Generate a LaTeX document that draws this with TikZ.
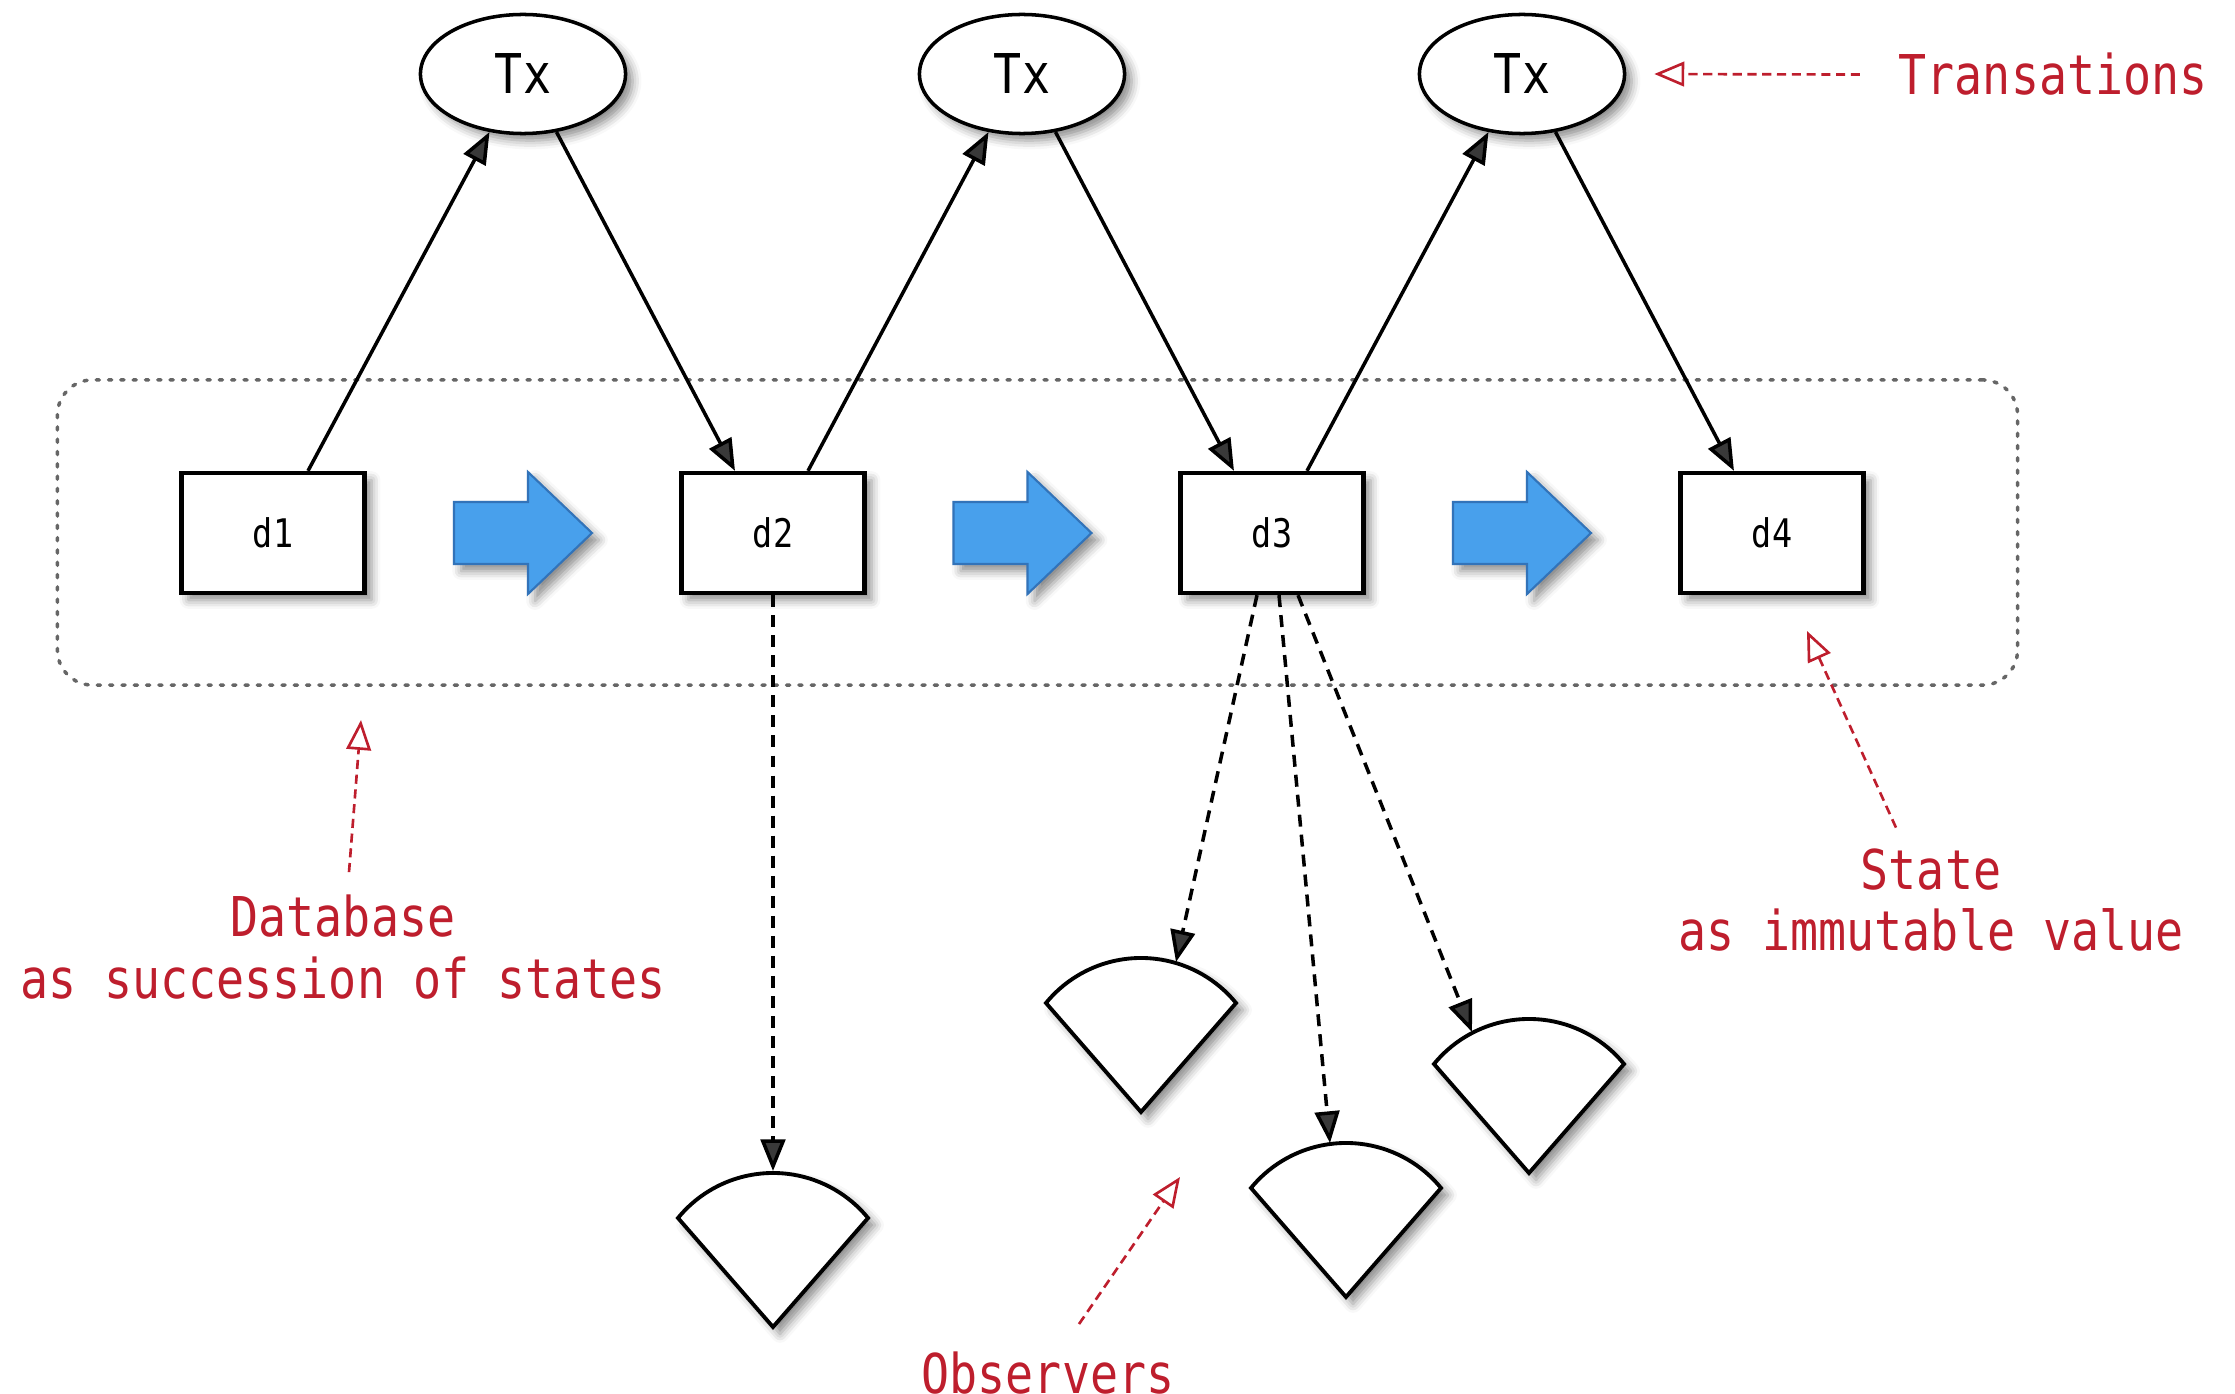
\documentclass[tikz,border=0pt]{standalone}
\usepackage{fontspec}
\usepackage{tikz}
\usetikzlibrary{arrows.meta,calc,shapes.geometric,shadows.blur}
\newfontfamily\diagfont[FakeStretch=0.85]{DejaVu Sans Mono}
\definecolor{notered}{RGB}{190,30,45}
\definecolor{stepblue}{RGB}{72,160,236}
\definecolor{stepedge}{RGB}{50,115,185}

\begin{document}
\begin{tikzpicture}[x=0.01cm,y=-0.01cm,>={Triangle[length=9pt,width=7pt]},
soft/.style={blur shadow={shadow xshift=2pt,shadow yshift=-2pt,shadow blur radius=2.5pt,shadow opacity=45}},
txnode/.style={ellipse,draw,line width=1pt,fill=white,soft,minimum width=2.05cm,
  minimum height=1.19cm,inner sep=0pt,font=\diagfont\fontsize{15.6}{18}\selectfont},
statebox/.style={rectangle,draw,line width=1.2pt,fill=white,soft,minimum width=1.83cm,
  minimum height=1.2cm,inner sep=0pt,font=\diagfont\fontsize{11.2}{13}\selectfont},
stateframe/.style={draw=black!60,line width=1pt,dash pattern=on 0.9pt off 2.6pt,
  line cap=round,rounded corners=0.35cm,minimum width=19.59cm,minimum height=3.05cm},
flow/.style={line width=1pt},
watch/.style={line width=1pt,dash pattern=on 3.4pt off 2.3pt},
observer/.style={draw,line width=1.1pt,fill=white,soft,line join=miter},
stepnext/.style={draw=stepedge,fill=stepblue,line width=0.6pt,soft,line join=miter},
note/.style={text=notered,inner sep=0pt,align=center,
  font=\diagfont\fontsize{15.6}{17.6}\selectfont},
hint/.style={draw=notered,line width=0.75pt,dash pattern=on 2.6pt off 1.6pt,
  -{Triangle[open,length=8.5pt,width=7pt]}}]
\useasboundingbox (0,0) rectangle (2235,1394);

\node[stateframe] (states) at (1037.5,532.5) {};

\node[txnode] (tx1) at (523,74) {Tx};
\node[txnode] (tx2) at (1022,74) {Tx};
\node[txnode] (tx3) at (1522,74) {Tx};

\node[statebox] (d1) at (273,533) {d1};
\node[statebox] (d2) at (773,533) {d2};
\node[statebox] (d3) at (1272,533) {d3};
\node[statebox] (d4) at (1772,533) {d4};

% blue steps between the states
\foreach \a/\b in {d1/d2,d2/d3,d3/d4}
  \path[stepnext] ($(\a.east)!0.5!(\b.west)$) ++(-69,-31) -- ++(74,0) -- ++(0,-30)
    -- ++(64,61) -- ++(-64,61) -- ++(0,-30) -- ++(-74,0) -- cycle;

% observers
\foreach \o/\x/\y in {o1/773/1327,o2/1141/1112,o3/1346/1297,o4/1529/1173}
  \draw[observer] (\x,\y) coordinate (\o) -- ++(-95,-109)
    arc[start angle=-140.7,end angle=-39.3,radius=122.8] -- cycle;
\coordinate (o1in) at ($(o1)+(0,-156)$);
\coordinate (o2in) at ($(o2)+(35,-150)$);
\coordinate (o3in) at ($(o3)+(-16,-154)$);
\coordinate (o4in) at ($(o4)+(-57,-141)$);

\path[->,flow] ([xshift=0.35cm]d1.north) edge (tx1.240)
          (tx1.300) edge ([xshift=-0.38cm]d2.north)
          ([xshift=0.35cm]d2.north) edge (tx2.240)
          (tx2.300) edge ([xshift=-0.38cm]d3.north)
          ([xshift=0.35cm]d3.north) edge (tx3.240)
          (tx3.300) edge ([xshift=-0.38cm]d4.north)
;
\path[->,watch] (d2.south) edge (o1in)
          ([xshift=-0.15cm]d3.south) edge (o2in)
          ([xshift=0.07cm]d3.south) edge (o3in)
          ([xshift=0.26cm]d3.south) edge (o4in)
;

% notes
\node[note,anchor=base west] (transnote) at (1898,95) {Transations};
\node[note] (dbnote) at (343,947) {Database\\as succession of states};
\node[note] (statenote) at (1931,900) {State\\as immutable value};
\node[note] (obsnote) at (1048,1373) {Observers};

\coordinate (dbtip) at (361,720);
\coordinate (statetip) at (1807,631);
\coordinate (obstip) at (1180,1177);

\draw[hint] ([xshift=-0.38cm]transnote.west) -- ([xshift=0.28cm]tx3.east);
\draw[hint] ([xshift=0.06cm,yshift=0.22cm]dbnote.north) -- (dbtip);
\draw[hint] ([xshift=-0.35cm,yshift=0.2cm]statenote.north) -- (statetip);
\draw[hint] ([xshift=0.31cm,yshift=0.27cm]obsnote.north) -- (obstip);
\end{tikzpicture}
\end{document}
